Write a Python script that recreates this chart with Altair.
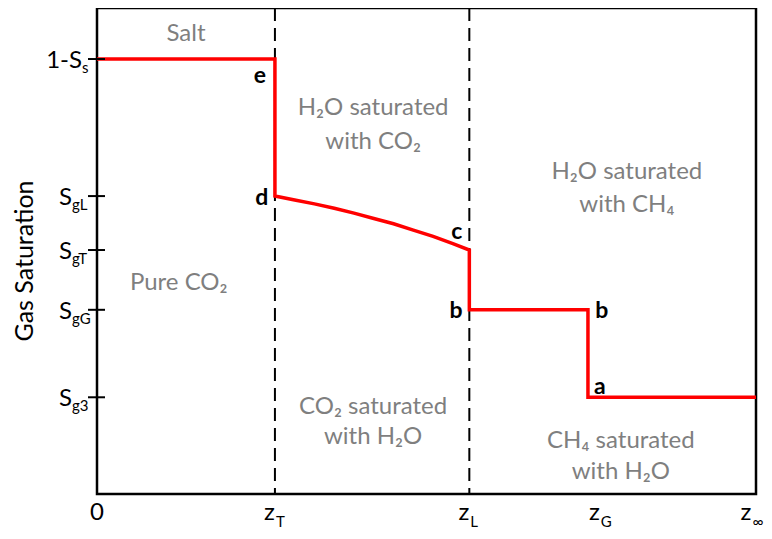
import altair as alt
import pandas as pd

# ---- data (x: distance as % of domain, y: gas saturation fraction) ----
prof_x = [0, 27.0, 27.0, 30.0, 33.0, 36.0, 39.0, 42.0, 45.0, 48.0, 51.0, 54.0, 56.5, 56.5, 74.5, 74.5, 100]
prof_y = [0.895, 0.895, 0.613, 0.605, 0.597, 0.588, 0.578, 0.567, 0.556, 0.543, 0.530, 0.515, 0.502,
          0.379, 0.379, 0.199, 0.199]

front_x = [27.0, 56.5]  # dashed fronts z_T, z_L

ytick_vals = [0.895, 0.613, 0.502, 0.379, 0.199]
ytick_main = ["1-S", "S", "S", "S", "S"]
ytick_sub = ["s", "gL", "gT", "gG", "g3"]

xlab_pos = [27.0, 56.5, 76.3, 99.3]
xlab_main = ["z", "z", "z", "z"]
xlab_sub = ["T", "L", "G", "∞"]

region_x = [13.5, 41.9, 41.9, 80.4, 80.4, 12.4, 41.9, 41.9, 79.5, 79.5]
region_y = [0.947, 0.795, 0.725, 0.662, 0.594, 0.434, 0.180, 0.117, 0.109, 0.045]
region_txt = ["Salt", "H₂O saturated", "with CO₂", "H₂O saturated", "with CH₄",
              "Pure CO₂", "CO₂ saturated", "with H₂O", "CH₄ saturated", "with H₂O"]

pt_x = [24.7, 25.0, 54.6, 54.5, 76.6, 76.3]
pt_y = [0.861, 0.609, 0.539, 0.377, 0.377, 0.221]
pt_txt = ["e", "d", "c", "b", "b", "a"]

W, H = 659, 486
FONT = "Lato"
xs = alt.Scale(domain=[0, 100], nice=False, zero=False)
ys = alt.Scale(domain=[0, 1], nice=False, zero=False)

prof = pd.DataFrame({"x": prof_x, "y": prof_y, "i": list(range(len(prof_x)))})
fronts = pd.DataFrame({"x": front_x})
yt = pd.DataFrame({"y": ytick_vals, "main": ytick_main, "sub": ytick_sub})
xl = pd.DataFrame({"x": xlab_pos, "main": xlab_main, "sub": xlab_sub})
reg = pd.DataFrame({"x": region_x, "y": region_y, "t": region_txt})
pts = pd.DataFrame({"x": pt_x, "y": pt_y, "t": pt_txt})

X = lambda f="x": alt.X(f"{f}:Q", scale=xs, axis=None)
Y = lambda f="y": alt.Y(f"{f}:Q", scale=ys, axis=None)

line = alt.Chart(prof).mark_line(color="#ff0000", strokeWidth=3.5, strokeJoin="miter").encode(
    x=X(), y=Y(), order="i:Q")

dash = alt.Chart(fronts).mark_rule(color="black", strokeWidth=2, strokeDash=[13, 7]).encode(x=X())

ticks = alt.Chart(yt).mark_rule(color="black", strokeWidth=2).encode(
    y=Y(), x=alt.value(-9), x2=alt.value(8))

yt_rest = yt.iloc[1:]
yt_first = yt.iloc[:1]
ymain = alt.Chart(yt_rest).mark_text(font=FONT, fontSize=24, align="right", baseline="alphabetic", dy=9, color="black").encode(
    y=Y(), x=alt.value(-25), text="main:N")
ysub = alt.Chart(yt_rest).mark_text(font=FONT, fontSize=15, align="left", baseline="alphabetic", dy=14, color="black").encode(
    y=Y(), x=alt.value(-25), text="sub:N")
ymain1 = alt.Chart(yt_first).mark_text(font=FONT, fontSize=24, align="right", baseline="alphabetic", dy=9, color="black").encode(
    y=Y(), x=alt.value(-15), text="main:N")
ysub1 = alt.Chart(yt_first).mark_text(font=FONT, fontSize=15, align="left", baseline="alphabetic", dy=14, color="black").encode(
    y=Y(), x=alt.value(-15), text="sub:N")

xmain = alt.Chart(xl).mark_text(font=FONT, fontSize=24, align="right", baseline="alphabetic", dx=0, color="black").encode(
    x=X(), y=alt.value(H + 26), text="main:N")
xsub = alt.Chart(xl).mark_text(font=FONT, fontSize=15, align="left", baseline="alphabetic", dx=1, color="black").encode(
    x=X(), y=alt.value(H + 33), text="sub:N")
zero = alt.Chart(pd.DataFrame({"x": [0], "t": ["0"]})).mark_text(
    font=FONT, fontSize=24, align="center", baseline="alphabetic", color="black").encode(
    x=X(), y=alt.value(H + 26), text="t:N")

ytitle = alt.Chart(pd.DataFrame({"t": ["Gas Saturation"]})).mark_text(
    font=FONT, fontSize=25, angle=270, align="center", baseline="middle", color="black").encode(
    x=alt.value(-72), y=alt.value(H / 2 + 10), text="t:N")

regions = alt.Chart(reg).mark_text(font=FONT, fontSize=24, color="#7f7f7f", baseline="middle").encode(
    x=X(), y=Y(), text="t:N")

points = alt.Chart(pts).mark_text(font=FONT, fontSize=23, fontWeight="bold", color="black", baseline="middle").encode(
    x=X(), y=Y(), text="t:N")

chart = alt.layer(dash, line, ticks, ymain, ysub, ymain1, ysub1, xmain, xsub, zero, ytitle, regions, points).properties(
    width=W, height=H,
    autosize=alt.AutoSizeParams(type="none"),
    padding={"left": 89, "top": 0, "right": 8, "bottom": 35},
).configure_view(stroke="black", strokeWidth=2.5)

chart.save("out.html", embed_options={"renderer": "svg", "actions": False})
